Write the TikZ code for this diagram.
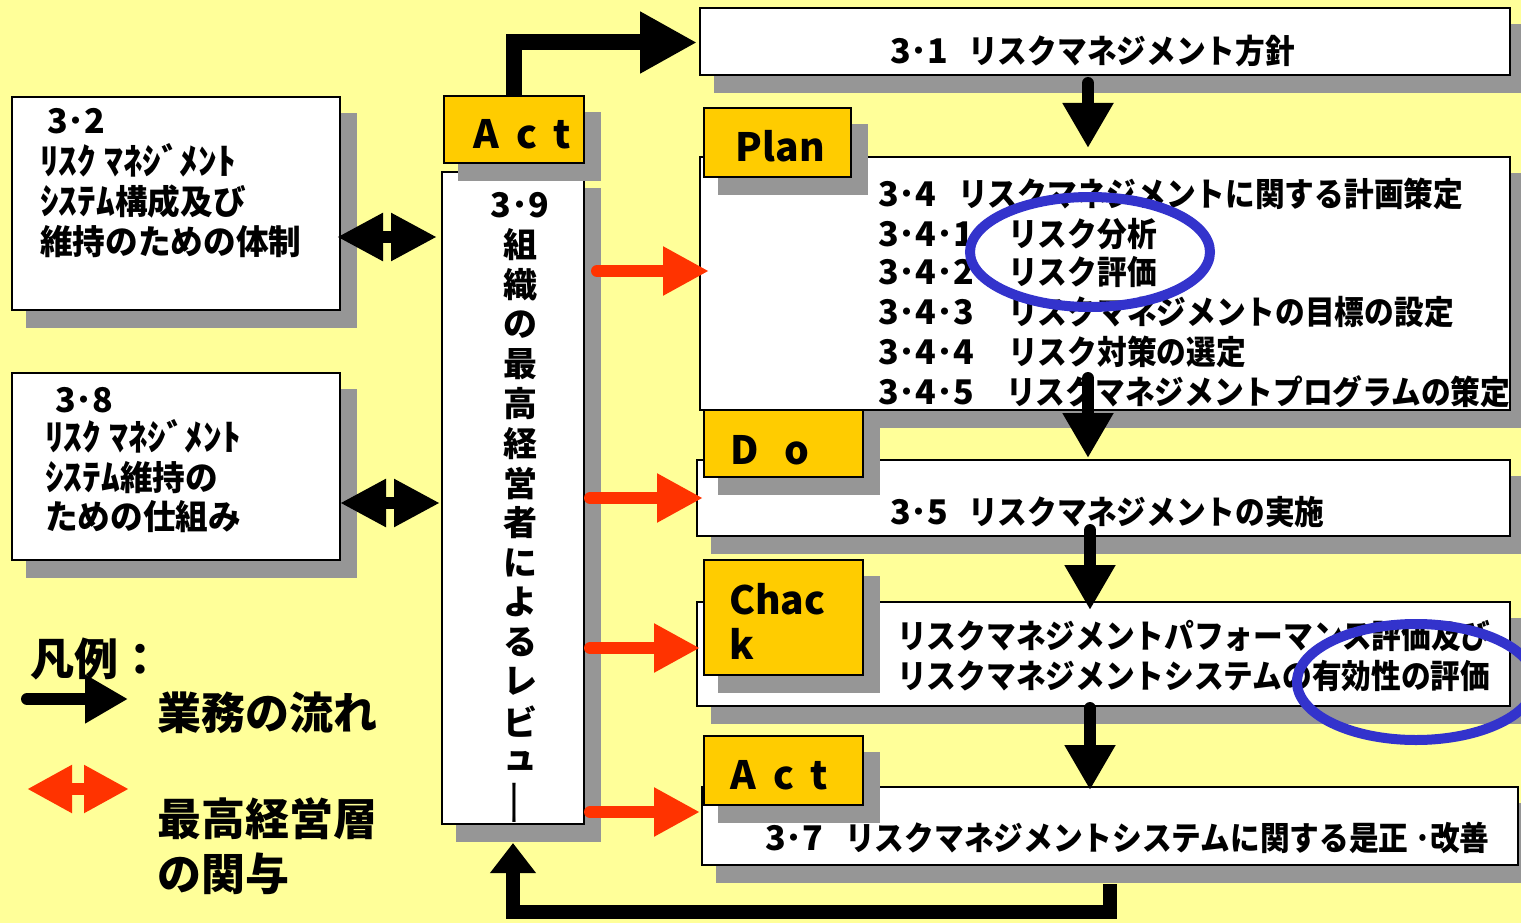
\documentclass[tikz,border=0pt]{standalone}
\usepackage{fontspec}
\usetikzlibrary{arrows.meta,calc}
\newfontfamily\jpc{Noto Sans CJK JP}[FakeStretch=0.9]
\newfontfamily\jpl{Noto Sans CJK JP}[FakeStretch=0.96]
\newfontfamily\jph{Noto Sans CJK JP}[FakeStretch=1.04]
\newfontfamily\jpw{Noto Sans CJK JP}
\definecolor{bgyellow}{HTML}{FFFF99}
\definecolor{gold}{HTML}{FFCC00}
\definecolor{shadowgray}{HTML}{969696}
\definecolor{redarrow}{HTML}{FF3300}
\definecolor{ringblue}{HTML}{3333CC}
\newcommand\hw[1]{{\jph\fontsize{36}{40}\selectfont #1}}
\tikzset{
  wbox/.style={draw=black, line width=2pt, inner sep=0pt, outer sep=0pt},
  boxtext/.style={font=\jpc\bfseries\fontsize{33}{40}\selectfont, anchor=base west, inner sep=0pt},
  numtext/.style={font=\jpw\bfseries\fontsize{34}{40}\selectfont, anchor=base west, inner sep=0pt},
  lefttext/.style={font=\jpl\bfseries\fontsize{34}{40}\selectfont, anchor=base west, inner sep=0pt},
  coltext/.style={font=\jpw\bfseries\fontsize{34}{40}\selectfont, inner sep=0pt},
  tagtext/.style={font=\jpw\bfseries\fontsize{39}{46}\selectfont, anchor=base west, inner sep=0pt},
  legendtext/.style={font=\jpw\bfseries\fontsize{44}{55}\selectfont, anchor=base west, inner sep=0pt},
  flow/.style={draw=black, line width=12pt, line cap=round, -{Triangle[width=48pt,length=45pt]}},
  bigflow/.style={draw=black, line width=16pt, line join=miter, -{Triangle[width=58pt,length=57pt]}},
  fback/.style={draw=black, line width=14pt, line join=miter, -{Triangle[width=44pt,length=30pt]}},
  rarrow/.style={draw=redarrow, line width=12pt, line cap=round, -{Triangle[width=46pt,length=46pt]}},
  dblblack/.style={draw=black, line width=12pt, {Triangle[width=45pt,length=46pt]}-{Triangle[width=45pt,length=46pt]}},
  dblred/.style={draw=redarrow, line width=12pt, {Triangle[width=45pt,length=45pt]}-{Triangle[width=45pt,length=45pt]}},
  ring/.style={draw=ringblue, line width=10pt},
}
% name, x, y, width, height, fill
\newcommand\shbox[6]{%
  \fill[shadowgray] (#2+14,#3+16) rectangle (#2+#4+17,#3+#5+18);
  \node[wbox, fill=#6, minimum width=#4pt, minimum height=#5pt, anchor=north west] (#1) at (#2,#3) {};
}
\begin{document}
\begin{tikzpicture}[x=1pt,y=-1pt]
\useasboundingbox (0,0) rectangle (1521,923);
\fill[bgyellow] (0,0) rectangle (1521,923);
\clip (0,0) rectangle (1521,923);

% left boxes
\shbox{b32}{12}{97}{328}{213}{white}
\shbox{b38}{12}{373}{328}{187}{white}
% review column and its Act tag
\shbox{col}{442}{172}{142}{652}{white}
\shbox{actT}{444}{96}{140}{67}{gold}
% right column
\shbox{b31}{700}{8}{810}{67}{white}
\shbox{planM}{700}{157}{810}{253}{white}
\shbox{planL}{704}{108}{147}{69}{gold}
\shbox{doM}{697}{460}{813}{76}{white}
\shbox{doL}{704}{410}{159}{67}{gold}
\shbox{chkM}{697}{602}{813}{104}{white}
\shbox{chkL}{704}{560}{159}{115}{gold}
\shbox{actM}{702}{787}{816}{78}{white}
\shbox{actL}{704}{736}{159}{69}{gold}

% left box texts
\node[numtext] (t32a) at (47,134) {3･2};
\node[lefttext] (t32b) at (40,175) {\hw{ﾘｽｸ ﾏﾈｼﾞﾒﾝﾄ}};
\node[lefttext] (t32c) at (40,214) {\hw{ｼｽﾃﾑ}構成及び};
\node[lefttext] (t32d) at (40,254) {維持のための体制};
\node[numtext] (t38a) at (55,412) {3･8};
\node[lefttext] (t38b) at (45,450) {\hw{ﾘｽｸ ﾏﾈｼﾞﾒﾝﾄ}};
\node[lefttext] (t38c) at (45,490) {\hw{ｼｽﾃﾑ}維持の};
\node[lefttext] (t38d) at (45,529) {ための仕組み};

% tags
\node[tagtext] (tA1) at (473,149) {A\hspace{18pt}c\hspace{16pt}t};
\node[tagtext] (tP) at (735,161) {P\hspace{1pt}lan};
\node[tagtext] (tD) at (730,464) {D\hspace{26pt}o};
\node[tagtext] (tC1) at (729,614) {Chac};
\node[tagtext] (tC2) at (729,659) {k};
\node[tagtext] (tA2) at (730,789) {A\hspace{18pt}c\hspace{16pt}t};

% review column text
\node[coltext] (c0) at (520,205) {3･9};
\foreach \ch [count=\i] in {組,織,の,最,高,経,営,者,に,よ,る,レ,ビ,ュ}
  \node[coltext] (c\i) at (520,{245+39.7*(\i-1)}) {\ch};
\node[coltext, font=\jpw\mdseries\fontsize{34}{40}\selectfont, rotate=90] (c15) at (520,803) {\scalebox{1.45}[1]{ー}};

% right texts
\node[numtext] (t31a) at (890,64) {3･1};
\node[boxtext] (t31b) at (968,64) {リスクマネジメント方針};
\node[numtext] (t34a) at (878,206) {3･4};
\node[boxtext] (t34b) at (958,206) {リスクマネジメントに関する計画策定};
\node[numtext] (t341a) at (878,246) {3･4･1};
\node[boxtext] (t341b) at (1008,246) {リスク分析};
\node[numtext] (t342a) at (878,284) {3･4･2};
\node[boxtext] (t342b) at (1008,284) {リスク評価};
\node[numtext] (t343a) at (878,324) {3･4･3};
\node[boxtext] (t343b) at (1008,324) {リスクマネジメントの目標の設定};
\node[numtext] (t344a) at (878,364) {3･4･4};
\node[boxtext] (t344b) at (1008,364) {リスク対策の選定};
\node[numtext] (t345a) at (878,404) {3･4･5};
\node[boxtext] (t345b) at (1006,404) {リスクマネジメントプログラムの策定};
\node[numtext] (t35a) at (890,524) {3･5};
\node[boxtext] (t35b) at (968,524) {リスクマネジメントの実施};
\node[boxtext] (t36a) at (897,648) {リスクマネジメントパフォーマンス評価及び};
\node[boxtext] (t36b) at (897,688) {リスクマネジメントシステムの有効性の評価};
\node[numtext] (t37a) at (765,850) {3･7};
\node[boxtext] (t37b) at (845,850) {リスクマネジメントシステムに関する是正 ･改善};

% legend
\node[legendtext] (lgh) at (30,675) {凡例：};
\node[legendtext] (lg1) at (157,729) {業務の流れ};
\node[legendtext] (lg2) at (157,835) {最高経営層};
\node[legendtext] (lg3) at (157,890) {の関与};

% coordinates
\coordinate (fxA) at (1088,0);
\coordinate (fxB) at (1090,0);
\coordinate (fbx) at (1110,0);
\coordinate (r1) at (597,271);
\coordinate (r2) at (590,498);
\coordinate (r3) at (590,648);
\coordinate (r4) at (590,812);
\coordinate (d1) at (337,237);
\coordinate (d2) at (340,503);
\coordinate (lgA) at (27,699);
\coordinate (lgB) at (128,699);
\coordinate (lgC) at (27,789);
\coordinate (lgD) at (129,789);

% black flow arrows
\draw[bigflow] (actT.north) |- ($(b31.west)+(-3,1)$);
\draw[flow] ($(b31.south -| fxA)+(0,8)$) -- ($(planM.north -| fxA)+(0,-9)$);
\draw[flow] ($(planM.south -| fxA)+(0,-32)$) -- ($(doM.north -| fxA)+(0,-2)$);
\draw[flow] ($(doM.south -| fxB)+(0,-6)$) -- ($(chkM.north -| fxB)+(0,8)$);
\draw[flow] ($(chkM.south -| fxB)+(0,2)$) -- ($(actM.north -| fxB)+(0,3)$);
\draw[fback] ($(actM.south -| fbx)+(0,19)$) -- ($(actM.south -| fbx)+(0,47)$) -| ($(col.south)+(0,19)$);

% red arrows
\draw[rarrow] (r1) -- ($(planM.west |- r1)+(9,0)$);
\draw[rarrow] (r2) -- ($(doM.west |- r2)+(6,0)$);
\draw[rarrow] (r3) -- ($(chkM.west |- r3)+(3,0)$);
\draw[rarrow] (r4) -- ($(actM.west |- r4)+(-2,0)$);

% black double arrows
\draw[dblblack] (d1) -- ($(col.west |- d1)+(-5,0)$);
\draw[dblblack] (d2) -- ($(col.west |- d2)+(-2,0)$);

% legend arrows
\draw[draw=black, line width=12pt, line cap=round, -{Triangle[width=46pt,length=43pt]}] (lgA) -- (lgB);
\draw[dblred] (lgC) -- (lgD);

% blue rings
\draw[ring] (1090,252) ellipse [x radius=120pt, y radius=55pt];
\draw[ring] (1416,682) ellipse [x radius=119pt, y radius=58pt];
\end{tikzpicture}
\end{document}
